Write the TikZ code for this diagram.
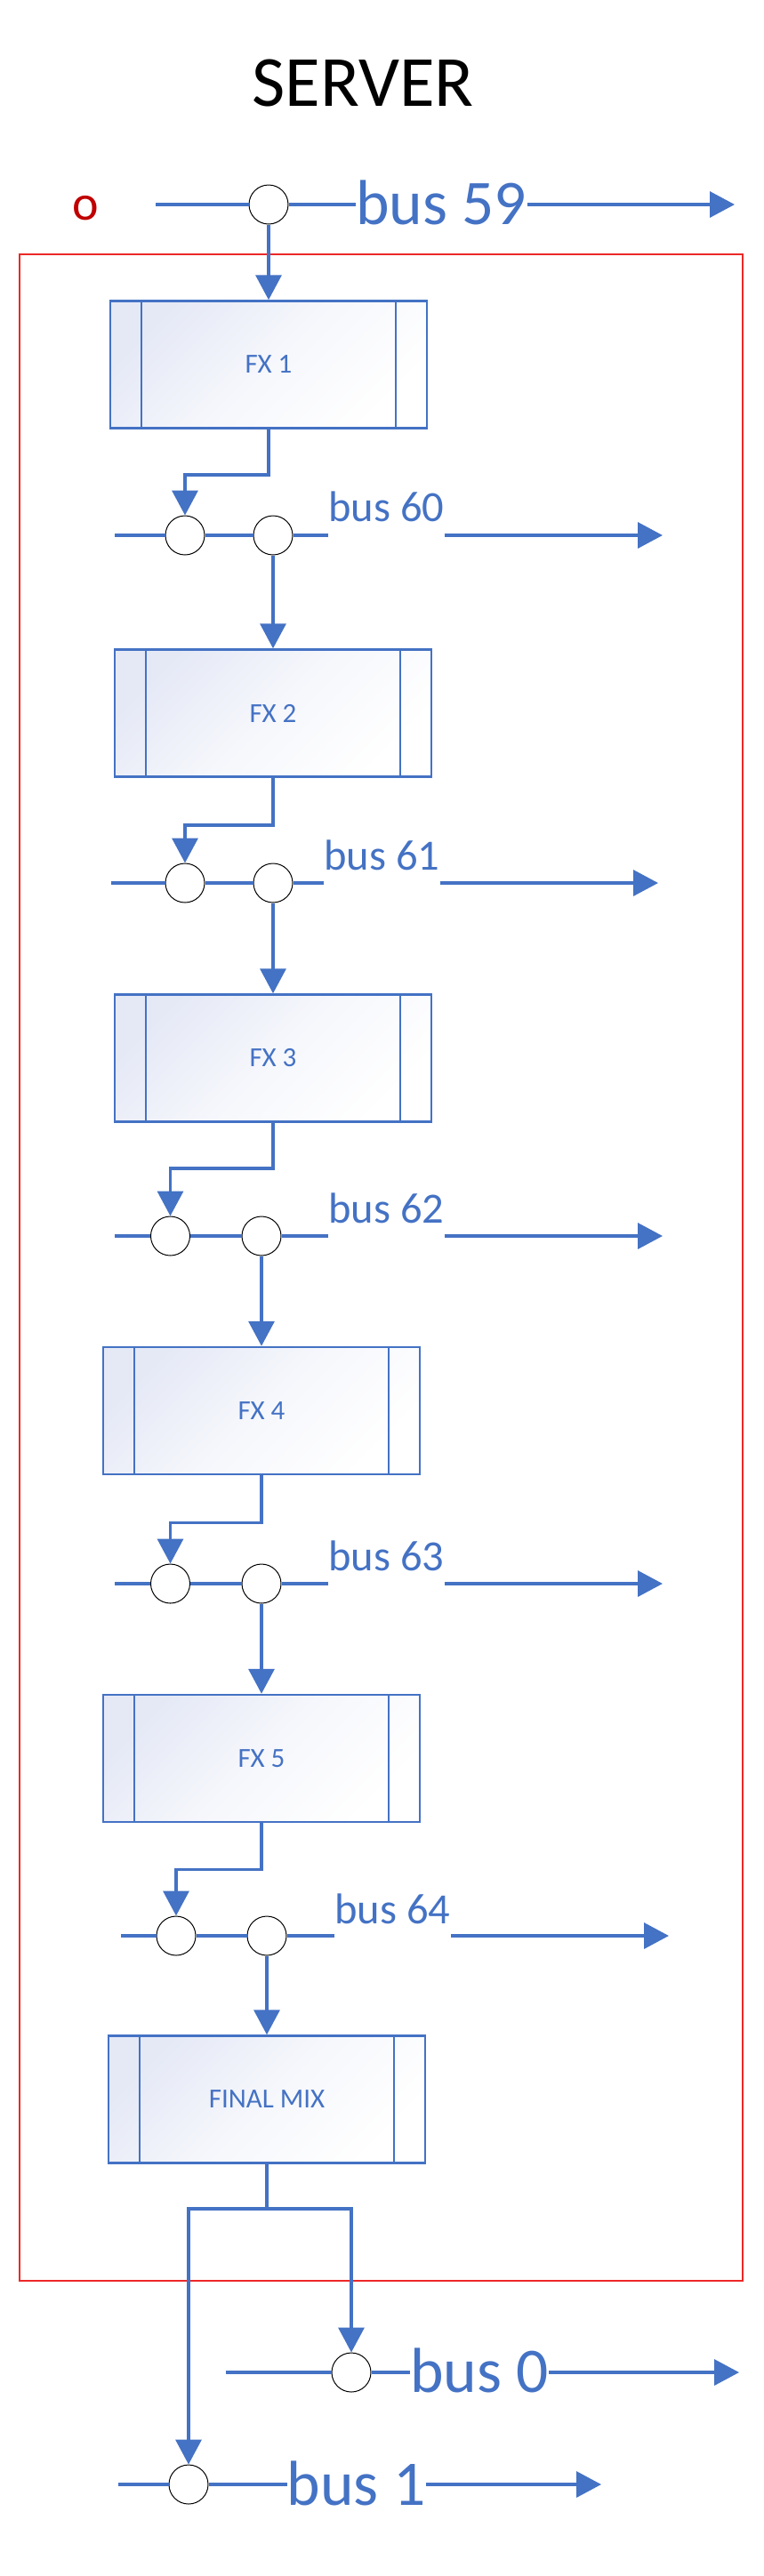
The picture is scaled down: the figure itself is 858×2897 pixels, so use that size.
\documentclass[tikz,border=0pt]{standalone}
\usepackage{fontspec}
\setmainfont{Carlito}
\usetikzlibrary{arrows.meta}

\begin{document}
\begin{tikzpicture}[x=0.5pt,y=-0.5pt,
    wire/.style={line width=1.75pt,draw=busblue},
    busarrow/.style={-{Triangle[length=14pt,width=14.5pt]}},
    tapcircle/.style={circle,draw=black,line width=0.5pt,fill=white,inner sep=0pt,minimum size=22pt},
    fxbox/.style={rectangle,draw=busblue,line width=1.25pt,minimum width=178pt,minimum height=71.5pt,
        top color=fxtint,bottom color=white,middle color=fxtint!35!white,shading angle=45,
        text=busblue,font=\fontsize{15.5pt}{18pt}\selectfont,
        path picture={\draw[busblue,line width=1.25pt]
            ([xshift=17.5pt]path picture bounding box.north west) -- ([xshift=17.5pt]path picture bounding box.south west)
            ([xshift=-17.5pt]path picture bounding box.north east) -- ([xshift=-17.5pt]path picture bounding box.south east);}},
    buslabel/.style={anchor=base west,inner sep=0pt,text=busblue,font=\fontsize{24.25pt}{29pt}\selectfont},
    biglabel/.style={anchor=base west,inner sep=0pt,text=busblue,font=\fontsize{35.75pt}{43pt}\selectfont}]
    % Defining colors
    \definecolor{busblue}{RGB}{68,114,196}%
    \definecolor{fxtint}{RGB}{229,233,246}%
    \definecolor{srcred}{RGB}{192,0,0}%
    \definecolor{framered}{RGB}{236,40,40}%
    \useasboundingbox (0,0) rectangle (858,2897);%

    % Marking title SERVER
    \node[inner sep=0pt,font=\fontsize{40.5pt}{48pt}\selectfont] (server) at (408,93) {SERVER};%

    % Marking source o
    \node[anchor=base,inner sep=0pt,text=srcred,font=\fontsize{28pt}{34pt}\selectfont] (src) at (96,247) {o};%

    % Drawing server frame
    \draw[framered,line width=0.75pt] (22,286) rectangle (835,2565);%

    % Marking bus 59 tap
    \node[tapcircle] (t59) at (302,230) {};%
    \node[biglabel] (l59) at (400,252) {bus 59};%
    \coordinate (b59w) at (175,230);%
    \coordinate (b59e) at (826,230);%

    % Drawing bus 59
    \draw[wire] (b59w) -- (t59);%
    \draw[wire] (t59) -- (t59 -| l59.west);%
    \draw[wire,busarrow] (t59 -| l59.east) -- (b59e);%

    % Marking FX 1
    \node[fxbox] (fx1) at (302,410) {FX 1};%
    \draw[wire,busarrow] (t59) -- (fx1);%

    % Marking bus 60 taps
    \node[tapcircle] (t60a) at (208,602) {};%
    \node[tapcircle] (t60b) at (307,602) {};%
    \node[buslabel] (l60) at (369,586) {bus 60};%
    \coordinate (b60w) at (129,602);%
    \coordinate (b60e) at (745,602);%

    % Drawing segment FX 1 bus 60
    \draw[wire,busarrow] (fx1.south) -- ++(0,51) -| (t60a);%
    \draw[wire] (b60w) -- (t60a);%
    \draw[wire] (t60a) -- (t60b);%
    \draw[wire] (t60b) -- (t60b -| l60.west);%
    \draw[wire,busarrow] (t60b -| l60.east) -- (b60e);%

    % Marking FX 2
    \node[fxbox] (fx2) at (307,802) {FX 2};%
    \draw[wire,busarrow] (t60b) -- (fx2);%

    % Marking bus 61 taps
    \node[tapcircle] (t61a) at (208,993) {};%
    \node[tapcircle] (t61b) at (307,993) {};%
    \node[buslabel] (l61) at (364,978) {bus 61};%
    \coordinate (b61w) at (125,993);%
    \coordinate (b61e) at (740,993);%

    % Drawing segment FX 2 bus 61
    \draw[wire,busarrow] (fx2.south) -- ++(0,53) -| (t61a);%
    \draw[wire] (b61w) -- (t61a);%
    \draw[wire] (t61a) -- (t61b);%
    \draw[wire] (t61b) -- (t61b -| l61.west);%
    \draw[wire,busarrow] (t61b -| l61.east) -- (b61e);%

    % Marking FX 3
    \node[fxbox] (fx3) at (307,1190) {FX 3};%
    \draw[wire,busarrow] (t61b) -- (fx3);%

    % Marking bus 62 taps
    \node[tapcircle] (t62a) at (191.5,1390) {};%
    \node[tapcircle] (t62b) at (294,1390) {};%
    \node[buslabel] (l62) at (369,1375) {bus 62};%
    \coordinate (b62w) at (129,1390);%
    \coordinate (b62e) at (745,1390);%

    % Drawing segment FX 3 bus 62
    \draw[wire,busarrow] (fx3.south) -- ++(0,51) -| (t62a);%
    \draw[wire] (b62w) -- (t62a);%
    \draw[wire] (t62a) -- (t62b);%
    \draw[wire] (t62b) -- (t62b -| l62.west);%
    \draw[wire,busarrow] (t62b -| l62.east) -- (b62e);%

    % Marking FX 4
    \node[fxbox] (fx4) at (294,1586.5) {FX 4};%
    \draw[wire,busarrow] (t62b) -- (fx4);%

    % Marking bus 63 taps
    \node[tapcircle] (t63a) at (191.5,1781) {};%
    \node[tapcircle] (t63b) at (294,1781) {};%
    \node[buslabel] (l63) at (369,1766) {bus 63};%
    \coordinate (b63w) at (129,1781);%
    \coordinate (b63e) at (745,1781);%

    % Drawing segment FX 4 bus 63
    \draw[wire,busarrow] (fx4.south) -- ++(0,53) -| (t63a);%
    \draw[wire] (b63w) -- (t63a);%
    \draw[wire] (t63a) -- (t63b);%
    \draw[wire] (t63b) -- (t63b -| l63.west);%
    \draw[wire,busarrow] (t63b -| l63.east) -- (b63e);%

    % Marking FX 5
    \node[fxbox] (fx5) at (294,1977.5) {FX 5};%
    \draw[wire,busarrow] (t63b) -- (fx5);%

    % Marking bus 64 taps
    \node[tapcircle] (t64a) at (198,2177) {};%
    \node[tapcircle] (t64b) at (300,2177) {};%
    \node[buslabel] (l64) at (376,2163) {bus 64};%
    \coordinate (b64w) at (136,2177);%
    \coordinate (b64e) at (752,2177);%

    % Drawing segment FX 5 bus 64
    \draw[wire,busarrow] (fx5.south) -- ++(0,52) -| (t64a);%
    \draw[wire] (b64w) -- (t64a);%
    \draw[wire] (t64a) -- (t64b);%
    \draw[wire] (t64b) -- (t64b -| l64.west);%
    \draw[wire,busarrow] (t64b -| l64.east) -- (b64e);%

    % Marking FINAL MIX
    \node[fxbox] (fmix) at (300,2361) {FINAL MIX};%
    \draw[wire,busarrow] (t64b) -- (fmix);%

    % Marking bus 0 and bus 1 taps
    \node[tapcircle] (t0) at (395,2668) {};%
    \node[biglabel] (l0) at (461,2690) {bus 0};%
    \coordinate (b0w) at (254,2668);%
    \coordinate (b0e) at (831,2668);%
    \node[tapcircle] (t1) at (212,2794) {};%
    \node[biglabel] (l1) at (322.5,2817) {bus 1};%
    \coordinate (b1w) at (133,2794);%
    \coordinate (b1e) at (676,2794);%

    % Drawing segment FINAL MIX bus 0 bus 1
    \draw[wire] (fmix.south) -- ++(0,50) coordinate (split);%
    \draw[wire,busarrow] (split) -| (t0);%
    \draw[wire,busarrow] (split) -| (t1);%

    % Drawing bus 0
    \draw[wire] (b0w) -- (t0);%
    \draw[wire] (t0) -- (t0 -| l0.west);%
    \draw[wire,busarrow] (t0 -| l0.east) -- (b0e);%

    % Drawing bus 1
    \draw[wire] (b1w) -- (t1);%
    \draw[wire] (t1) -- (t1 -| l1.west);%
    \draw[wire,busarrow] (t1 -| l1.east) -- (b1e);%
\end{tikzpicture}
\end{document}
